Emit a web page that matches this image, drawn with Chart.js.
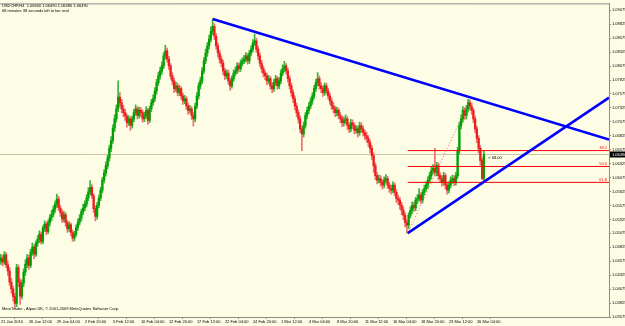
<!DOCTYPE html>
<html><head><meta charset="utf-8">
<script src="https://cdn.jsdelivr.net/npm/chart.js@4.4.1/dist/chart.umd.min.js"></script>
<style>html,body{margin:0;padding:0;background:#FDFDE6;}canvas{display:block}</style>
</head><body>
<canvas id="c" width="625" height="326"></canvas>
<script>
const dateLabels = ["21 Jan 2010","26 Jan 12:00","29 Jan 04:00","2 Feb 20:00","5 Feb 12:00","10 Feb 04:00","12 Feb 20:00","17 Feb 12:00","22 Feb 04:00","24 Feb 20:00","1 Mar 12:00","4 Mar 04:00","8 Mar 20:00","11 Mar 12:00","16 Mar 04:00","18 Mar 20:00","23 Mar 12:00","26 Mar 04:00"];
const labelBars = [0,16,32,48,64,80,96,112,128,144,160,176,192,208,224,240,256,272];
const priceTicks = [1.09075,1.08825,1.08575,1.08325,1.08075,1.07825,1.07575,1.07325,1.07075,1.06825,1.06575,1.06325,1.06075,1.05825,1.05575,1.05325,1.05075,1.04825,1.04575,1.04325,1.04075,1.03825,1.03575];

const opens = [1.0458,1.0463,1.0456,1.0469,1.0451,1.0440,1.0420,1.0408,1.0394,1.0382,
1.0446,1.0420,1.0395,1.0418,1.0438,1.0452,1.0463,1.0450,1.0474,1.0483,
1.0470,1.0490,1.0497,1.0506,1.0493,1.0517,1.0524,1.0511,1.0527,1.0536,
1.0542,1.0551,1.0560,1.0569,1.0553,1.0545,1.0533,1.0541,1.0527,1.0516,
1.0523,1.0509,1.0499,1.0506,1.0518,1.0527,1.0535,1.0546,1.0553,1.0560,
1.0571,1.0582,1.0590,1.0575,1.0552,1.0538,1.0558,1.0571,1.0585,1.0603,
1.0616,1.0629,1.0643,1.0660,1.0674,1.0696,1.0713,1.0731,1.0752,1.0742,
1.0731,1.0724,1.0718,1.0706,1.0713,1.0701,1.0713,1.0724,1.0731,1.0719,
1.0728,1.0724,1.0713,1.0719,1.0728,1.0710,1.0731,1.0742,1.0749,1.0763,
1.0778,1.0790,1.0799,1.0808,1.0826,1.0835,1.0820,1.0808,1.0790,1.0781,
1.0767,1.0772,1.0760,1.0767,1.0754,1.0745,1.0749,1.0736,1.0728,1.0731,
1.0719,1.0713,1.0736,1.0754,1.0772,1.0781,1.0799,1.0817,1.0831,1.0844,
1.0856,1.0870,1.0879,1.0861,1.0844,1.0831,1.0820,1.0813,1.0799,1.0790,
1.0795,1.0781,1.0772,1.0785,1.0795,1.0799,1.0808,1.0803,1.0813,1.0817,
1.0820,1.0826,1.0817,1.0831,1.0838,1.0849,1.0853,1.0838,1.0826,1.0813,
1.0803,1.0795,1.0790,1.0781,1.0785,1.0772,1.0767,1.0778,1.0785,1.0772,
1.0781,1.0795,1.0803,1.0808,1.0799,1.0785,1.0772,1.0760,1.0749,1.0736,
1.0724,1.0713,1.0695,1.0686,1.0701,1.0719,1.0728,1.0736,1.0745,1.0754,
1.0767,1.0778,1.0785,1.0772,1.0767,1.0760,1.0772,1.0763,1.0754,1.0745,
1.0736,1.0731,1.0724,1.0728,1.0719,1.0713,1.0706,1.0710,1.0713,1.0701,
1.0695,1.0706,1.0701,1.0692,1.0695,1.0688,1.0701,1.0695,1.0688,1.0683,
1.0678,1.0670,1.0660,1.0647,1.0629,1.0611,1.0603,1.0606,1.0599,1.0594,
1.0603,1.0606,1.0594,1.0588,1.0585,1.0594,1.0581,1.0570,1.0567,1.0558,
1.0549,1.0540,1.0527,1.0522,1.0540,1.0549,1.0558,1.0553,1.0567,1.0570,
1.0576,1.0567,1.0581,1.0588,1.0594,1.0603,1.0611,1.0620,1.0624,1.0617,
1.0629,1.0611,1.0606,1.0599,1.0611,1.0594,1.0585,1.0594,1.0603,1.0606,
1.0599,1.0611,1.0656,1.0701,1.0713,1.0728,1.0719,1.0731,1.0742,1.0736,
1.0728,1.0713,1.0695,1.0678,1.0660,1.0638,1.0606];

const highs = [1.0470,1.0468,1.0475,1.0473,1.0458,1.0446,1.0427,1.0413,1.0400,1.0452,
1.0451,1.0426,1.0424,1.0444,1.0460,1.0470,1.0468,1.0479,1.0490,1.0487,
1.0494,1.0503,1.0512,1.0510,1.0521,1.0530,1.0528,1.0532,1.0541,1.0549,
1.0557,1.0566,1.0578,1.0574,1.0558,1.0550,1.0547,1.0545,1.0531,1.0528,
1.0526,1.0514,1.0511,1.0523,1.0533,1.0541,1.0551,1.0560,1.0566,1.0577,
1.0589,1.0602,1.0595,1.0579,1.0557,1.0563,1.0576,1.0590,1.0608,1.0622,
1.0636,1.0648,1.0666,1.0681,1.0702,1.0720,1.0738,1.0781,1.0760,1.0748,
1.0737,1.0730,1.0722,1.0719,1.0717,1.0718,1.0730,1.0738,1.0735,1.0734,
1.0733,1.0729,1.0725,1.0735,1.0732,1.0736,1.0748,1.0756,1.0769,1.0784,
1.0797,1.0806,1.0815,1.0832,1.0845,1.0840,1.0825,1.0812,1.0796,1.0786,
1.0779,1.0777,1.0773,1.0771,1.0759,1.0755,1.0753,1.0741,1.0737,1.0735,
1.0724,1.0741,1.0760,1.0778,1.0788,1.0805,1.0823,1.0838,1.0850,1.0863,
1.0878,1.0892,1.0884,1.0866,1.0849,1.0836,1.0826,1.0818,1.0804,1.0801,
1.0800,1.0786,1.0790,1.0801,1.0806,1.0814,1.0813,1.0819,1.0823,1.0827,
1.0832,1.0830,1.0836,1.0844,1.0855,1.0865,1.0858,1.0843,1.0831,1.0818,
1.0808,1.0800,1.0795,1.0791,1.0789,1.0778,1.0784,1.0791,1.0789,1.0787,
1.0801,1.0810,1.0816,1.0812,1.0804,1.0790,1.0777,1.0765,1.0754,1.0741,
1.0729,1.0718,1.0700,1.0707,1.0724,1.0734,1.0742,1.0751,1.0760,1.0773,
1.0784,1.0796,1.0790,1.0778,1.0772,1.0777,1.0777,1.0768,1.0759,1.0750,
1.0742,1.0736,1.0734,1.0732,1.0724,1.0718,1.0716,1.0720,1.0717,1.0706,
1.0712,1.0711,1.0706,1.0701,1.0700,1.0707,1.0706,1.0700,1.0693,1.0689,
1.0683,1.0675,1.0665,1.0652,1.0634,1.0617,1.0612,1.0611,1.0604,1.0609,
1.0613,1.0610,1.0599,1.0594,1.0600,1.0598,1.0586,1.0576,1.0572,1.0563,
1.0555,1.0545,1.0532,1.0545,1.0555,1.0564,1.0563,1.0572,1.0577,1.0588,
1.0580,1.0586,1.0594,1.0600,1.0609,1.0617,1.0626,1.0631,1.0660,1.0635,
1.0634,1.0616,1.0611,1.0617,1.0615,1.0599,1.0600,1.0609,1.0612,1.0611,
1.0617,1.0662,1.0707,1.0720,1.0735,1.0733,1.0737,1.0748,1.0747,1.0741,
1.0732,1.0718,1.0700,1.0683,1.0665,1.0643,1.0655];

const lows = [1.0452,1.0449,1.0452,1.0446,1.0432,1.0414,1.0400,1.0386,1.0372,1.0376,
1.0412,1.0380,1.0390,1.0412,1.0432,1.0446,1.0443,1.0446,1.0468,1.0462,
1.0466,1.0484,1.0491,1.0488,1.0489,1.0511,1.0505,1.0507,1.0521,1.0530,
1.0537,1.0545,1.0554,1.0548,1.0538,1.0527,1.0528,1.0520,1.0509,1.0511,
1.0503,1.0493,1.0494,1.0502,1.0513,1.0522,1.0530,1.0541,1.0548,1.0555,
1.0566,1.0577,1.0570,1.0545,1.0530,1.0533,1.0553,1.0566,1.0580,1.0598,
1.0610,1.0623,1.0637,1.0654,1.0669,1.0690,1.0707,1.0726,1.0735,1.0724,
1.0717,1.0710,1.0698,1.0701,1.0692,1.0696,1.0708,1.0719,1.0713,1.0714,
1.0717,1.0707,1.0708,1.0714,1.0703,1.0706,1.0726,1.0737,1.0744,1.0757,
1.0773,1.0784,1.0793,1.0803,1.0820,1.0814,1.0801,1.0784,1.0774,1.0760,
1.0762,1.0754,1.0755,1.0748,1.0739,1.0740,1.0730,1.0721,1.0723,1.0712,
1.0700,1.0708,1.0731,1.0748,1.0766,1.0776,1.0794,1.0812,1.0825,1.0838,
1.0851,1.0864,1.0855,1.0838,1.0824,1.0813,1.0806,1.0792,1.0783,1.0785,
1.0775,1.0764,1.0768,1.0780,1.0790,1.0794,1.0797,1.0798,1.0808,1.0812,
1.0815,1.0811,1.0812,1.0826,1.0833,1.0844,1.0832,1.0819,1.0807,1.0796,
1.0788,1.0783,1.0774,1.0776,1.0766,1.0760,1.0762,1.0773,1.0766,1.0767,
1.0776,1.0790,1.0797,1.0793,1.0779,1.0766,1.0753,1.0742,1.0729,1.0717,
1.0705,1.0688,1.0656,1.0680,1.0696,1.0713,1.0722,1.0731,1.0739,1.0749,
1.0762,1.0772,1.0766,1.0760,1.0753,1.0755,1.0757,1.0748,1.0739,1.0730,
1.0724,1.0717,1.0718,1.0713,1.0706,1.0699,1.0700,1.0704,1.0694,1.0688,
1.0690,1.0695,1.0686,1.0687,1.0680,1.0683,1.0689,1.0682,1.0676,1.0671,
1.0663,1.0652,1.0640,1.0617,1.0604,1.0596,1.0598,1.0592,1.0587,1.0589,
1.0598,1.0588,1.0581,1.0578,1.0580,1.0575,1.0563,1.0559,1.0551,1.0541,
1.0532,1.0519,1.0508,1.0516,1.0535,1.0543,1.0547,1.0548,1.0561,1.0565,
1.0561,1.0562,1.0576,1.0583,1.0588,1.0598,1.0605,1.0614,1.0610,1.0611,
1.0604,1.0599,1.0592,1.0594,1.0587,1.0578,1.0580,1.0589,1.0597,1.0593,
1.0594,1.0606,1.0650,1.0695,1.0707,1.0712,1.0713,1.0725,1.0729,1.0721,
1.0706,1.0688,1.0670,1.0652,1.0630,1.0604,1.0601];

const closes = [1.0463,1.0456,1.0469,1.0451,1.0440,1.0420,1.0408,1.0394,1.0382,1.0446,
1.0420,1.0395,1.0418,1.0438,1.0452,1.0463,1.0450,1.0474,1.0483,1.0470,
1.0490,1.0497,1.0506,1.0493,1.0517,1.0524,1.0511,1.0527,1.0536,1.0542,
1.0551,1.0560,1.0569,1.0553,1.0545,1.0533,1.0541,1.0527,1.0516,1.0523,
1.0509,1.0499,1.0506,1.0518,1.0527,1.0535,1.0546,1.0553,1.0560,1.0571,
1.0582,1.0590,1.0575,1.0552,1.0538,1.0558,1.0571,1.0585,1.0603,1.0616,
1.0629,1.0643,1.0660,1.0674,1.0696,1.0713,1.0731,1.0752,1.0742,1.0731,
1.0724,1.0718,1.0706,1.0713,1.0701,1.0713,1.0724,1.0731,1.0719,1.0728,
1.0724,1.0713,1.0719,1.0728,1.0710,1.0731,1.0742,1.0749,1.0763,1.0778,
1.0790,1.0799,1.0808,1.0826,1.0835,1.0820,1.0808,1.0790,1.0781,1.0767,
1.0772,1.0760,1.0767,1.0754,1.0745,1.0749,1.0736,1.0728,1.0731,1.0719,
1.0713,1.0736,1.0754,1.0772,1.0781,1.0799,1.0817,1.0831,1.0844,1.0856,
1.0870,1.0879,1.0861,1.0844,1.0831,1.0820,1.0813,1.0799,1.0790,1.0795,
1.0781,1.0772,1.0785,1.0795,1.0799,1.0808,1.0803,1.0813,1.0817,1.0820,
1.0826,1.0817,1.0831,1.0838,1.0849,1.0853,1.0838,1.0826,1.0813,1.0803,
1.0795,1.0790,1.0781,1.0785,1.0772,1.0767,1.0778,1.0785,1.0772,1.0781,
1.0795,1.0803,1.0808,1.0799,1.0785,1.0772,1.0760,1.0749,1.0736,1.0724,
1.0713,1.0695,1.0686,1.0701,1.0719,1.0728,1.0736,1.0745,1.0754,1.0767,
1.0778,1.0785,1.0772,1.0767,1.0760,1.0772,1.0763,1.0754,1.0745,1.0736,
1.0731,1.0724,1.0728,1.0719,1.0713,1.0706,1.0710,1.0713,1.0701,1.0695,
1.0706,1.0701,1.0692,1.0695,1.0688,1.0701,1.0695,1.0688,1.0683,1.0678,
1.0670,1.0660,1.0647,1.0629,1.0611,1.0603,1.0606,1.0599,1.0594,1.0603,
1.0606,1.0594,1.0588,1.0585,1.0594,1.0581,1.0570,1.0567,1.0558,1.0549,
1.0540,1.0527,1.0522,1.0540,1.0549,1.0558,1.0553,1.0567,1.0570,1.0576,
1.0567,1.0581,1.0588,1.0594,1.0603,1.0611,1.0620,1.0624,1.0617,1.0629,
1.0611,1.0606,1.0599,1.0611,1.0594,1.0585,1.0594,1.0603,1.0606,1.0599,
1.0611,1.0656,1.0701,1.0713,1.0728,1.0719,1.0731,1.0742,1.0736,1.0728,
1.0713,1.0695,1.0678,1.0660,1.0638,1.0606,1.0649];

const bidPrice = 1.0649;
const fibLow = {bar: 232.5, price: 1.0508};
const fibHigh = {bar: 268, price: 1.0747};
const fibLevels = [{name:"38.2", price:1.0656},{name:"50.0", price:1.06275},{name:"61.8", price:1.0599}];
const upperTrend = [{x:121, y:1.0892},{x:347.5, y:1.0676}];
const lowerTrend = [{x:232.5, y:1.0508},{x:347.5, y:1.0751}];
const headerText = ["USDCHF,H4  1.06600 1.06490 1.06480 1.06490", "68 minutes 38 seconds left to bar end"];
const footerText = "MetaTrader - Alpari UK, \u00a9 2001-2009 MetaQuotes Software Corp.";
const fibNote = "< 68.00";

const UP = '#00A000', DOWN = '#EE1C1C', UPW = '#3CB43C', DOWNW = '#F07070';
const idx = closes.map((_, i) => i);
const isUp = idx.map(i => closes[i] >= opens[i]);
const FONT = 'Liberation Sans';
const XMIN = -0.5, XMAX = 347.5;

const overlay = {
  id: 'overlay',
  afterDraw(chart) {
    const ctx = chart.ctx, xs = chart.scales.x, ys = chart.scales.y, a = chart.chartArea;
    ctx.save();
    ctx.strokeStyle = '#8C8C8C'; ctx.lineWidth = 1;
    ctx.beginPath(); ctx.moveTo(0, a.top + 0.5); ctx.lineTo(a.right, a.top + 0.5); ctx.stroke();
    ctx.fillStyle = '#000';
    ctx.font = '4px "' + FONT + '"';
    ctx.textBaseline = 'top'; ctx.textAlign = 'left';
    ctx.fillText(headerText[0], 2, 4);
    ctx.fillText(headerText[1], 2, 9);
    ctx.fillText(footerText, 2, 307);
    ctx.fillStyle = '#FF0000';
    ctx.textAlign = 'right'; ctx.textBaseline = 'bottom';
    fibLevels.forEach(l => ctx.fillText(l.name, a.right - 2, ys.getPixelForValue(l.price) - 0.5));
    ctx.fillStyle = '#000'; ctx.textAlign = 'left'; ctx.textBaseline = 'middle';
    ctx.fillText(fibNote, xs.getPixelForValue(278.5), ys.getPixelForValue(bidPrice) + 3);
    const by = ys.getPixelForValue(bidPrice);
    ctx.fillStyle = '#000';
    ctx.fillRect(a.right + 1, by - 3, 625 - a.right, 6);
    ctx.fillStyle = '#FFF';
    ctx.fillText(bidPrice.toFixed(5), a.right + 3, by);
    ctx.restore();
  }
};

new Chart(document.getElementById('c'), {
  type: 'bar',
  data: {
    datasets: [
      { type:'line', data:[{x:XMIN, y:bidPrice},{x:XMAX, y:bidPrice}], borderColor:'#C8C4A8', borderWidth:1, pointRadius:0, order:10 },
      { data: idx.map(i => ({x:i, y:[lows[i], highs[i]]})), backgroundColor: idx.map(i => isUp[i] ? UPW : DOWNW), barThickness:1, grouped:false, order:8 },
      { data: idx.map(i => ({x:i, y:[opens[i], closes[i]]})), backgroundColor: idx.map(i => isUp[i] ? UP : DOWN), barThickness:1.6, minBarLength:1, grouped:false, order:7 },
      ...fibLevels.map(l => ({ type:'line', data:[{x:fibLow.bar, y:l.price},{x:XMAX, y:l.price}], borderColor:'#FF0000', borderWidth:1, pointRadius:0, order:5 })),
      { type:'line', data:[{x:fibLow.bar, y:fibLow.price},{x:fibHigh.bar, y:fibHigh.price}], borderColor:'#F06060', borderWidth:1, borderDash:[1,2], pointRadius:0, order:4 },
      { type:'line', data: upperTrend, borderColor:'#0000FF', borderWidth:2.5, pointRadius:0, order:1 },
      { type:'line', data: lowerTrend, borderColor:'#0000FF', borderWidth:2.5, pointRadius:0, order:1 }
    ]
  },
  options: {
    responsive:false, animation:false, devicePixelRatio:1,
    layout:{ padding:{ left:0, top:2, right:0, bottom:0 } },
    plugins:{ legend:{display:false}, tooltip:{enabled:false} },
    scales: {
      x: {
        type:'linear', min:XMIN, max:XMAX, offset:false,
        afterBuildTicks: s => { s.ticks = labelBars.map(v => ({value:v})); },
        afterFit: s => { s.height = 9; },
        grid:{ display:true, drawOnChartArea:false, tickLength:2, color:'#8C8C8C' },
        border:{ color:'#8C8C8C' },
        ticks:{ autoSkip:false, maxRotation:0, align:'start', padding:0, color:'#000', font:{family:FONT, size:4},
          callback:(v, i) => dateLabels[i] }
      },
      y: {
        position:'right', min:1.03575, max:1.092,
        afterBuildTicks: s => { s.ticks = priceTicks.map(v => ({value:v})); },
        afterFit: s => { s.width = 16; },
        grid:{ drawOnChartArea:false, tickLength:2, color:'#8C8C8C' },
        border:{ color:'#8C8C8C' },
        ticks:{ autoSkip:false, padding:1, color:'#000', font:{family:FONT, size:4}, callback: v => v.toFixed(5) }
      }
    }
  },
  plugins:[overlay]
});
</script>
</body></html>
